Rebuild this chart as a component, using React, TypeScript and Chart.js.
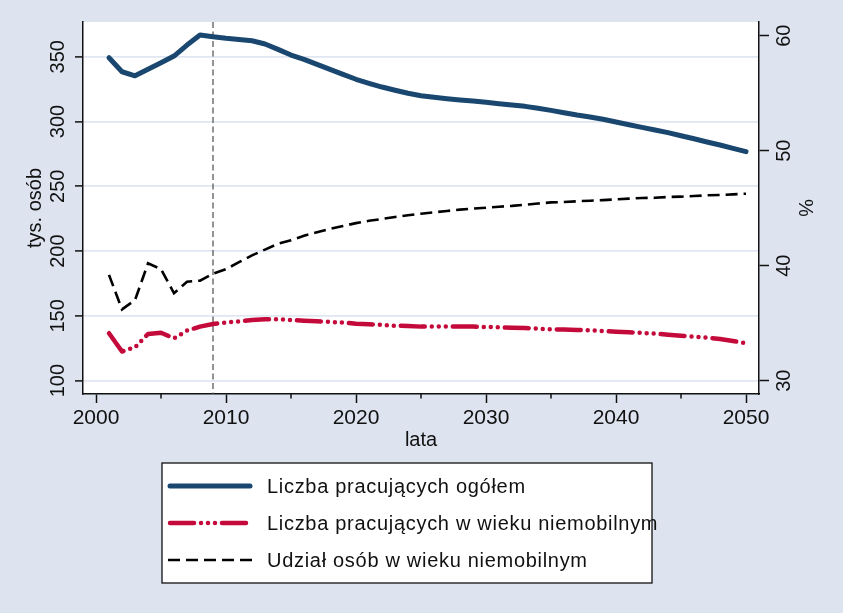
import React, { useEffect, useRef } from 'react';
import { Chart, registerables } from 'chart.js';

Chart.register(...registerables);

const years = [
  2001, 2002, 2003, 2004, 2005, 2006, 2007, 2008, 2009, 2010,
  2011, 2012, 2013, 2014, 2015, 2016, 2017, 2018, 2019, 2020,
  2021, 2022, 2023, 2024, 2025, 2026, 2027, 2028, 2029, 2030,
  2031, 2032, 2033, 2034, 2035, 2036, 2037, 2038, 2039, 2040,
  2041, 2042, 2043, 2044, 2045, 2046, 2047, 2048, 2049, 2050,
];

// Liczba pracujących ogółem (tys. osób)
const totalEmployed = [
  349.2, 338.4, 335.3, 340.3, 345.4, 350.5, 359.0, 366.7, 365.4, 364.2,
  363.3, 362.3, 359.8, 355.7, 351.3, 348.0, 344.1, 340.3, 336.4, 332.6,
  329.5, 326.6, 324.1, 321.8, 319.9, 318.7, 317.6, 316.6, 315.8, 314.8,
  313.7, 312.7, 311.7, 310.2, 308.6, 306.8, 305.0, 303.5, 301.7, 299.6,
  297.5, 295.5, 293.4, 291.4, 289.0, 286.7, 284.2, 281.9, 279.3, 276.7,
];

// Liczba pracujących w wieku niemobilnym (tys. osób)
const immobileEmployed = [
  136.6, 122.5, 125.8, 136.0, 137.0, 132.7, 138.6, 141.7, 143.7, 144.8,
  145.8, 146.8, 147.3, 147.3, 146.8, 146.3, 145.8, 145.3, 144.8, 144.0,
  143.5, 143.0, 142.4, 142.2, 141.7, 141.7, 141.7, 141.7, 141.7, 141.4,
  141.2, 140.9, 140.7, 140.1, 139.7, 139.4, 139.1, 138.9, 138.3, 137.8,
  137.3, 136.8, 136.3, 135.5, 134.7, 134.0, 133.2, 132.2, 130.6, 128.9,
];

// Udział osób w wieku niemobilnym (%)
const immobileShare = [
  39.2, 36.2, 37.0, 40.2, 39.7, 37.6, 38.6, 38.7, 39.3, 39.7,
  40.3, 40.9, 41.4, 41.9, 42.2, 42.6, 42.9, 43.2, 43.45, 43.7,
  43.9, 44.06, 44.23, 44.38, 44.52, 44.64, 44.76, 44.87, 44.96, 45.04,
  45.13, 45.2, 45.3, 45.4, 45.5, 45.54, 45.6, 45.65, 45.7, 45.77,
  45.83, 45.89, 45.9, 45.97, 46.0, 46.06, 46.12, 46.15, 46.2, 46.26,
];

const seriesLabels = [
  'Liczba pracujących ogółem',
  'Liczba pracujących w wieku niemobilnym',
  'Udział osób w wieku niemobilnym',
];

const leftTicks = [100, 150, 200, 250, 300, 350];
const rightTicks = [30, 40, 50, 60];
const xMajorTicks = [2000, 2010, 2020, 2030, 2040, 2050];
const xMinorTicks = [2005, 2015, 2025, 2035, 2045];
const markerYear = 2009;

const xTitle = 'lata';
const leftTitle = 'tys. osób';
const rightTitle = '%';

const FONT = "'Liberation Sans', Arial, Helvetica, sans-serif";
const BG = '#dde3ef';
const GRID = '#e1e7f2';
const INK = '#111111';
const BLUE = '#1a476f';
const RED = '#c40a3a';

const toPoints = (vals: number[]) => vals.map((v, i) => ({ x: years[i], y: v }));

const backgroundPlugin = {
  id: 'bgPlugin',
  beforeDraw(chart: any) {
    const { ctx, chartArea } = chart;
    ctx.save();
    ctx.fillStyle = BG;
    ctx.fillRect(0, 0, chart.width, chart.height);
    ctx.fillStyle = '#ffffff';
    ctx.fillRect(chartArea.left, chartArea.top, chartArea.right - chartArea.left, chartArea.bottom - chartArea.top);
    ctx.restore();
  },
};

const markerPlugin = {
  id: 'markerPlugin',
  beforeDatasetsDraw(chart: any) {
    const { ctx, chartArea } = chart;
    const x = chart.scales.x.getPixelForValue(markerYear);
    ctx.save();
    ctx.strokeStyle = '#5a5a5a';
    ctx.lineWidth = 1.3;
    ctx.setLineDash([6, 3.5]);
    ctx.beginPath();
    ctx.moveTo(x, chartArea.top);
    ctx.lineTo(x, chartArea.bottom);
    ctx.stroke();
    ctx.restore();
  },
};

const minorTickPlugin = {
  id: 'minorTickPlugin',
  afterDraw(chart: any) {
    const { ctx, chartArea } = chart;
    const sx = chart.scales.x;
    ctx.save();
    ctx.strokeStyle = INK;
    ctx.lineWidth = 1.5;
    xMinorTicks.forEach((v) => {
      const x = sx.getPixelForValue(v);
      ctx.beginPath();
      ctx.moveTo(x, chartArea.bottom);
      ctx.lineTo(x, chartArea.bottom + 4.5);
      ctx.stroke();
    });
    ctx.restore();
  },
};

const legendPlugin = {
  id: 'boxLegend',
  afterDraw(chart: any) {
    const { ctx } = chart;
    const box = { left: 162, top: 463, right: 652, bottom: 583 };
    ctx.save();
    ctx.fillStyle = '#ffffff';
    ctx.fillRect(box.left, box.top, box.right - box.left, box.bottom - box.top);
    ctx.strokeStyle = INK;
    ctx.lineWidth = 1.3;
    ctx.strokeRect(box.left, box.top, box.right - box.left, box.bottom - box.top);
    const rowY = [486, 523, 560];
    chart.data.datasets.forEach((ds: any, i: number) => {
      const y = rowY[i];
      ctx.save();
      ctx.strokeStyle = ds.borderColor;
      ctx.lineWidth = ds.borderWidth;
      ctx.lineCap = ds.borderCapStyle || 'butt';
      ctx.setLineDash(ds.borderDash || []);
      ctx.beginPath();
      const x0 = ds.borderCapStyle === 'round' ? 170 : 168;
      const x1 = ds.borderCapStyle === 'round' ? 250 : 252;
      ctx.moveTo(x0, y);
      ctx.lineTo(x1, y);
      ctx.stroke();
      ctx.restore();
      ctx.fillStyle = INK;
      ctx.font = `20px ${FONT}`;
      (ctx as any).letterSpacing = '0.7px';
      ctx.textAlign = 'left';
      ctx.textBaseline = 'middle';
      ctx.fillText(ds.label, 267, y + 1);
      (ctx as any).letterSpacing = '0px';
    });
    ctx.restore();
  },
};

export default function App() {
  const canvasRef = useRef<HTMLCanvasElement | null>(null);

  useEffect(() => {
    if (!canvasRef.current) return;
    Chart.defaults.font.family = FONT;
    Chart.defaults.color = INK;
    const chart = new Chart(canvasRef.current, {
      type: 'line',
      data: {
        datasets: [
          {
            label: seriesLabels[0],
            data: toPoints(totalEmployed),
            yAxisID: 'y',
            borderColor: BLUE,
            borderWidth: 5,
            borderCapStyle: 'round',
            borderJoinStyle: 'round',
            pointRadius: 0,
            tension: 0,
            fill: false,
          },
          {
            label: seriesLabels[1],
            data: toPoints(immobileEmployed),
            yAxisID: 'y',
            borderColor: RED,
            borderWidth: 4.5,
            borderCapStyle: 'round',
            borderJoinStyle: 'round',
            borderDash: [24, 7, 0, 7, 0, 7, 0, 7],
            pointRadius: 0,
            tension: 0,
            fill: false,
          },
          {
            label: seriesLabels[2],
            data: toPoints(immobileShare),
            yAxisID: 'y2',
            borderColor: '#000000',
            borderWidth: 2.6,
            borderCapStyle: 'butt',
            borderDash: [12, 6],
            pointRadius: 0,
            tension: 0,
            fill: false,
          },
        ],
      } as any,
      options: {
        responsive: false,
        animation: false,
        devicePixelRatio: 1,
        layout: { padding: { top: 22, left: 0, right: 0, bottom: 0 } },
        plugins: {
          legend: { display: false },
          tooltip: { enabled: false },
        },
        scales: {
          x: {
            type: 'linear',
            position: 'bottom',
            min: 1999,
            max: 2051,
            afterBuildTicks: (s: any) => {
              s.ticks = xMajorTicks.map((v) => ({ value: v }));
            },
            afterFit: (s: any) => {
              s.height = 219;
            },
            grid: {
              drawOnChartArea: false,
              drawTicks: true,
              tickLength: 9,
              tickColor: INK,
              tickWidth: 1.5,
            },
            border: { display: true, color: INK, width: 1.5 },
            ticks: {
              font: { size: 21 },
              color: INK,
              padding: 3,
              maxRotation: 0,
              minRotation: 0,
              callback: (v: any) => String(v),
            },
            title: {
              display: true,
              text: xTitle,
              font: { size: 20 },
              color: INK,
              padding: { top: 0, bottom: 161 },
            },
          },
          y: {
            type: 'linear',
            position: 'left',
            min: 89.7,
            max: 376.8,
            afterBuildTicks: (s: any) => {
              s.ticks = leftTicks.map((v) => ({ value: v }));
            },
            afterFit: (s: any) => {
              s.width = 83;
            },
            grid: {
              drawOnChartArea: true,
              color: GRID,
              lineWidth: 1.8,
              drawTicks: true,
              tickLength: 8,
              tickColor: INK,
              tickWidth: 1.5,
            },
            border: { display: true, color: INK, width: 1.5 },
            ticks: {
              font: { size: 20 },
              color: INK,
              padding: 0,
              minRotation: 90,
              maxRotation: 90,
              crossAlign: 'center',
              callback: (v: any) => String(v),
            },
            title: {
              display: true,
              text: leftTitle,
              font: { size: 20 },
              color: INK,
              padding: { top: 23, bottom: 0 },
            },
          },
          y2: {
            type: 'linear',
            position: 'right',
            min: 28.84,
            max: 61.19,
            afterBuildTicks: (s: any) => {
              s.ticks = rightTicks.map((v) => ({ value: v }));
            },
            afterFit: (s: any) => {
              s.width = 84;
            },
            grid: {
              drawOnChartArea: false,
              drawTicks: true,
              tickLength: 10,
              tickColor: INK,
              tickWidth: 1.5,
            },
            border: { display: true, color: INK, width: 1.5 },
            ticks: {
              font: { size: 20 },
              color: INK,
              padding: 4.6,
              minRotation: 90,
              maxRotation: 90,
              crossAlign: 'center',
              callback: (v: any) => String(v),
            },
            title: {
              display: true,
              text: rightTitle,
              font: { size: 20 },
              color: INK,
              padding: { top: 26, bottom: 0 },
            },
          },
        },
      } as any,
      plugins: [backgroundPlugin, markerPlugin, minorTickPlugin, legendPlugin],
    });
    return () => chart.destroy();
  }, []);

  return (
    <div style={{ position: 'fixed', left: 0, top: 0, width: 843, height: 613, background: BG }}>
      <canvas ref={canvasRef} width={843} height={613} style={{ display: 'block', width: 843, height: 613 }} />
    </div>
  );
}
